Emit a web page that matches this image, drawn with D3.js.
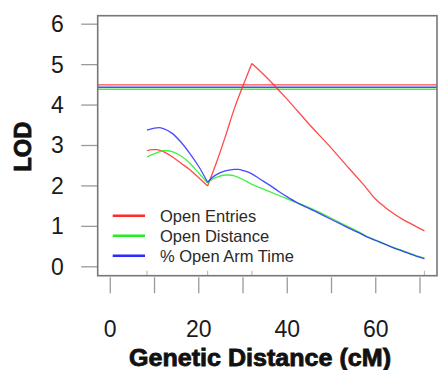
<!DOCTYPE html>
<html>
<head>
<meta charset="utf-8">
<script src="https://cdn.jsdelivr.net/npm/d3@7"></script>
<style>
  body { margin: 0; background: #fff; }
  svg { display: block; font-family: "Liberation Sans", Arial, sans-serif; }
</style>
</head>
<body>
<div id="chart-area"></div>
<script>
// series: LOD along the chromosome (cM)
var entriesPos = [8.3, 9.5, 10.5, 12, 14, 16, 18, 20, 22, 24, 26, 28, 30, 32, 33, 35, 40, 45, 50, 54, 57.8, 60, 62, 64, 66, 68, 71];
var entriesLod = [2.87, 2.90, 2.90, 2.85, 2.72, 2.56, 2.40, 2.20, 2.00, 2.58, 3.22, 3.90, 4.48, 5.03, 4.93, 4.72, 4.14, 3.52, 2.93, 2.43, 1.96, 1.67, 1.48, 1.32, 1.18, 1.06, 0.89];

var distancePos = [8.3, 10, 11, 12, 13, 14, 16, 18, 20, 22, 23, 24, 26, 27, 28, 30, 32, 34, 36, 38, 40, 42, 44, 46, 48, 50, 52, 54, 56, 58, 60, 62, 64, 66, 68, 71];
var distanceLod = [2.72, 2.80, 2.84, 2.87, 2.87, 2.85, 2.74, 2.56, 2.32, 2.07, 2.16, 2.21, 2.27, 2.27, 2.25, 2.16, 2.04, 1.95, 1.86, 1.77, 1.68, 1.59, 1.51, 1.41, 1.31, 1.20, 1.09, 0.98, 0.87, 0.75, 0.66, 0.57, 0.48, 0.40, 0.32, 0.21];

var armTimePos = [8.3, 10, 11, 12, 14, 16, 18, 20, 22, 23, 24, 26, 28, 29, 30, 32, 34, 36, 38, 40, 42, 44, 46, 48, 50, 52, 54, 56, 58, 60, 62, 64, 66, 68, 71];
var armTimeLod = [3.38, 3.43, 3.44, 3.42, 3.30, 3.08, 2.80, 2.48, 2.09, 2.20, 2.28, 2.37, 2.41, 2.41, 2.38, 2.30, 2.16, 2.02, 1.87, 1.73, 1.60, 1.49, 1.39, 1.28, 1.17, 1.06, 0.95, 0.85, 0.74, 0.65, 0.56, 0.47, 0.39, 0.31, 0.20];

var seriesNames = ["Open Entries", "Open Distance", "% Open Arm Time"];
var thresholds = [4.50, 4.39, 4.44];
var markerPos = [8.3, 22, 32, 71];
var entriesKnots = [22, 32, 57.8];   // corners on the red curve
var otherKnots = [22];
var xTicks = [0, 10, 20, 30, 40, 50, 60, 70];
var xTickLabels = [0, 20, 40, 60];
var yTicks = [0, 1, 2, 3, 4, 5, 6];

var colors = ["#ff2a2a", "#22ee22", "#2a2aff"];

var margin = { top: 15.7, right: 4, bottom: 94.3, left: 97.7 },
    width = 441 - margin.left - margin.right,
    height = 370 - margin.top - margin.bottom;

var svg = d3.select("#chart-area").append("svg")
    .attr("width", 441)
    .attr("height", 370);

var g = svg.append("g")
    .attr("transform", "translate(" + margin.left + ", " + margin.top + ")");

// R-style 4% padding around 0..71 and 0..6
var x = d3.scaleLinear().domain([-2.84, 73.84]).range([0, width]);
var y = d3.scaleLinear().domain([-0.22, 6.21]).range([height, 0]);

var series = [
    { name: seriesNames[0], pos: entriesPos, lod: entriesLod, knots: entriesKnots },
    { name: seriesNames[1], pos: distancePos, lod: distanceLod, knots: otherKnots },
    { name: seriesNames[2], pos: armTimePos, lod: armTimeLod, knots: otherKnots }
];

// y ticks (left, outside box)
g.selectAll(".ytick").data(yTicks).enter().append("line")
    .attr("x1", -16.5).attr("x2", 0)
    .attr("y1", (d) => y(d)).attr("y2", (d) => y(d))
    .attr("stroke", "#9a9a9a").attr("stroke-width", 1.3);

g.selectAll(".ylab").data(yTicks).enter().append("text")
    .attr("x", -34)
    .attr("y", (d) => y(d) + 8)
    .attr("text-anchor", "end")
    .attr("font-size", 23)
    .attr("fill", "#1a1a1a")
    .text((d) => d);

// x ticks hang below the box
g.selectAll(".xtick").data(xTicks).enter().append("line")
    .attr("x1", (d) => x(d)).attr("x2", (d) => x(d))
    .attr("y1", height + 1.5).attr("y2", height + 17.5)
    .attr("stroke", "#9a9a9a").attr("stroke-width", 1.3);

g.selectAll(".xlab").data(xTickLabels).enter().append("text")
    .attr("x", (d) => x(d))
    .attr("y", height + 61)
    .attr("text-anchor", "middle")
    .attr("font-size", 23)
    .attr("fill", "#1a1a1a")
    .text((d) => d);

// marker rug inside bottom of box
g.selectAll(".marker").data(markerPos).enter().append("line")
    .attr("x1", (d) => x(d)).attr("x2", (d) => x(d))
    .attr("y1", height - 5).attr("y2", height)
    .attr("stroke", "#bbbbbb").attr("stroke-width", 1.2);

// threshold lines
g.selectAll(".thr").data(thresholds).enter().append("line")
    .attr("x1", 0).attr("x2", width)
    .attr("y1", (d) => y(d)).attr("y2", (d) => y(d))
    .attr("stroke", (d, i) => colors[i]).attr("stroke-width", 1.4)
    .attr("opacity", 0.85);

var line = d3.line()
    .x((d) => x(d[0]))
    .y((d) => y(d[1]))
    .curve(d3.curveMonotoneX);

// smooth between knots, sharp corners at the knots
function segmentedPath(s) {
    var pts = s.pos.map((p, i) => [p, s.lod[i]]);
    var out = "", seg = [];
    pts.forEach((p) => {
        seg.push(p);
        if (s.knots.indexOf(p[0]) >= 0) {
            out += line(seg);
            seg = [p];
        }
    });
    if (seg.length > 1) out += line(seg);
    return out;
}

g.selectAll(".lod").data(series).enter().append("path")
    .attr("d", segmentedPath)
    .attr("fill", "none")
    .attr("stroke", (s, i) => colors[i])
    .attr("stroke-width", 1.3)
    .attr("stroke-linejoin", "round")
    .attr("opacity", 0.85);

// box
g.append("rect")
    .attr("x", 0).attr("y", 0)
    .attr("width", width).attr("height", height)
    .attr("fill", "none")
    .attr("stroke", "#777").attr("stroke-width", 1.6);

// legend
var legend = g.selectAll(".legend").data(series).enter().append("g")
    .attr("transform", (d, i) => "translate(15, " + (200 + i * 20) + ")");

legend.append("line")
    .attr("x1", 0).attr("x2", 32.3)
    .attr("stroke", (d, i) => colors[i])
    .attr("stroke-width", 2.4);

legend.append("text")
    .attr("x", 47.3)
    .attr("y", 5.8)
    .attr("font-size", 16.5)
    .attr("fill", "#2a2a2a")
    .text((d) => d.name);

// axis titles
svg.append("text")
    .attr("x", 260)
    .attr("y", 366)
    .attr("text-anchor", "middle")
    .attr("font-size", 23)
    .attr("font-weight", "bold")
    .attr("fill", "#111").attr("stroke", "#111").attr("stroke-width", 0.8)
    .attr("textLength", 262).attr("lengthAdjust", "spacingAndGlyphs")
    .text("Genetic Distance (cM)");

svg.append("text")
    .attr("transform", "translate(31, 146.7) rotate(-90)")
    .attr("text-anchor", "middle")
    .attr("font-size", 23)
    .attr("font-weight", "bold")
    .attr("fill", "#111").attr("stroke", "#111").attr("stroke-width", 0.8)
    .attr("textLength", 50).attr("lengthAdjust", "spacingAndGlyphs")
    .text("LOD");
</script>
</body>
</html>
